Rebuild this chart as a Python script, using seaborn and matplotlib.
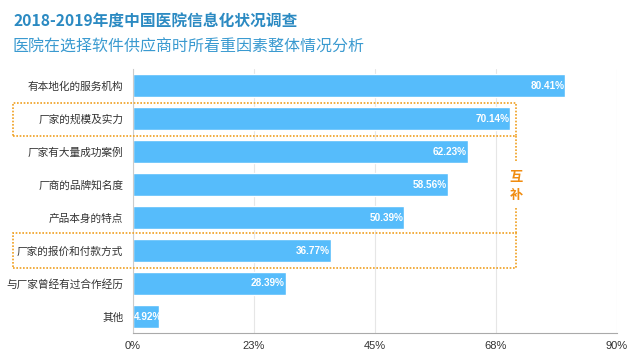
import matplotlib
matplotlib.use("Agg")
import matplotlib.pyplot as plt
import seaborn as sns
import pandas as pd
from matplotlib.patches import Rectangle
from matplotlib.lines import Line2D

categories = ["有本地化的服务机构", "厂家的规模及实力", "厂家有大量成功案例", "厂商的品牌知名度",
              "产品本身的特点", "厂家的报价和付款方式", "与厂家曾经有过合作经历", "其他"]
values = [80.41, 70.14, 62.23, 58.56, 50.39, 36.77, 28.39, 4.92]
xticks = [0, 22.5, 45, 67.5, 90]
xtick_labels = ["0%", "23%", "45%", "68%", "90%"]

sns.set_theme(style="white")
plt.rcParams['font.family'] = ['Noto Sans CJK SC', 'DejaVu Sans']

df = pd.DataFrame({"cat": categories, "val": values})
fig = plt.figure(figsize=(6.4, 3.6), dpi=100)
ax = fig.add_axes([133/640, 1-333/360, (617-133)/640, (333-69)/360])
sns.barplot(data=df, x="val", y="cat", color="#56bcfb", saturation=1, width=0.7, ax=ax)
ax.set_xlim(0, 90)
ax.set_ylim(len(categories)-0.5, -0.5)
ax.set_xticks(xticks)
ax.set_xticklabels(xtick_labels, fontsize=8, color="#333333", family="Liberation Sans")
ax.tick_params(axis="y", labelsize=7.7, colors="#333333", length=0, pad=7)
ax.tick_params(axis="x", length=0, pad=6)
ax.set_xlabel("")
ax.set_ylabel("")
ax.grid(axis="x", color="#e6e6e6", linewidth=0.8)
ax.set_axisbelow(True)
for s in ["top", "right"]:
    ax.spines[s].set_visible(False)
ax.spines["left"].set_color("#cccccc")
ax.spines["bottom"].set_color("#aaaaaa")
ax.spines["left"].set_linewidth(0.8)
ax.spines["bottom"].set_linewidth(0.8)

for i, v in enumerate(values):
    if v < 10:
        x, ha = 0.25, "left"
    else:
        x, ha = v - 0.15, "right"
    ax.text(x, i, f"{v:.2f}%", ha=ha, va="center", color="white",
            fontsize=7.2, fontweight="bold", family="Liberation Sans")

fig.text(13/640, 1-22/360, "2018-2019年度中国医院信息化状况调查", fontsize=11.3, fontweight="bold",
         color="#2b8ac2", va="center")
fig.text(13/640, 1-47/360, "医院在选择软件供应商时所看重因素整体情况分析", fontsize=11.5,
         color="#3a9ad0", va="center")

orange = "#f0a020"
W, H = 640, 360
def box(x0, y0, x1, y1):
    fig.add_artist(Rectangle((x0/W, 1-y1/H), (x1-x0)/W, (y1-y0)/H, transform=fig.transFigure,
                             fill=False, edgecolor=orange, linestyle=(0, (1, 1)), linewidth=1.2))
box(13, 103, 516, 136)
box(13, 233, 516, 268)
fig.add_artist(Line2D([516/W, 516/W], [1-136/H, 1-161/H], transform=fig.transFigure,
                      color=orange, linestyle=(0, (1, 1)), linewidth=1.2))
fig.add_artist(Line2D([516/W, 516/W], [1-208/H, 1-233/H], transform=fig.transFigure,
                      color=orange, linestyle=(0, (1, 1)), linewidth=1.2))
fig.text(516/W, 1-177/H, "互", color="#f08c10", fontsize=9.5, fontweight="bold", ha="center", va="center")
fig.text(516/W, 1-195/H, "补", color="#f08c10", fontsize=9.5, fontweight="bold", ha="center", va="center")

fig.savefig("out.png", dpi=100)
